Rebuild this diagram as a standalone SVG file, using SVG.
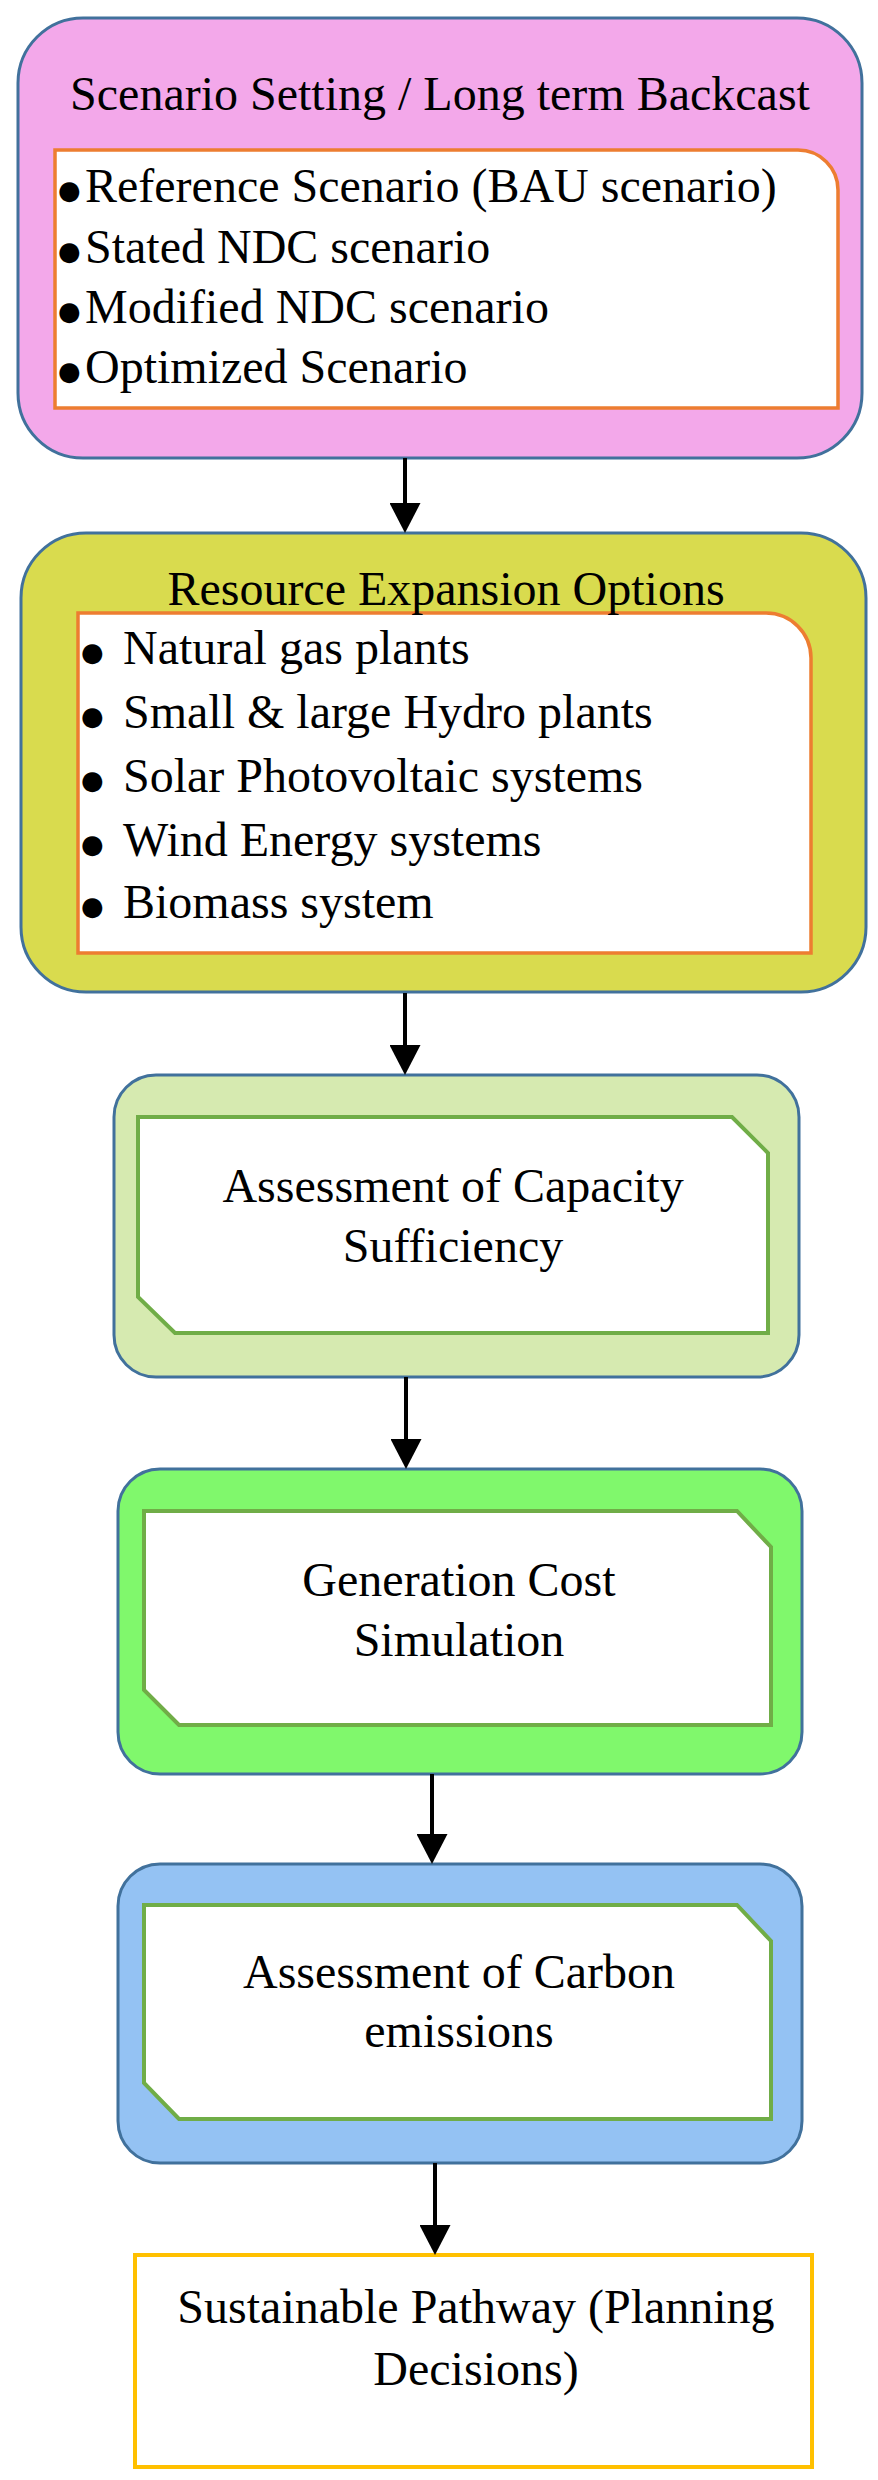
<svg xmlns="http://www.w3.org/2000/svg" width="878" height="2480" viewBox="0 0 878 2480">
<style>
text{font-family:"Liberation Serif","Times New Roman",serif;font-size:48px;fill:#000}
tspan.b{font-family:"DejaVu Sans",sans-serif;font-size:26px}
.c{text-anchor:middle}
.outer{stroke:#41719C;stroke-width:3}
.inOr{fill:#fff;stroke:#ED7D31;stroke-width:3.5}
.inGr{fill:#fff;stroke:#70AD47;stroke-width:4}
.conn{stroke:#000;stroke-width:4;fill:none}
</style>
<defs>
<marker id="ah" viewBox="0 0 30 31" refX="2" refY="15.5" markerWidth="30" markerHeight="31" markerUnits="userSpaceOnUse" orient="auto">
<path d="M0,0 L30,15.5 L0,31 Z" fill="#000"/>
</marker>
</defs>
<rect width="878" height="2480" fill="#fff"/>

<g id="scenario">
<rect class="outer" x="18" y="18" width="844" height="440" rx="65" fill="#F3A8EA"/>
<path class="inOr" d="M55,150 H798 A40,40 0 0 1 838,190 V408 H55 Z"/>
<text class="c" x="440" y="110">Scenario Setting / Long term Backcast</text>
<text x="58" y="199"><tspan class="b">●</tspan><tspan x="85" y="202">Reference Scenario (BAU scenario)</tspan></text>
<text x="58" y="260"><tspan class="b">●</tspan><tspan x="85" y="263">Stated NDC scenario</tspan></text>
<text x="58" y="320"><tspan class="b">●</tspan><tspan x="85" y="323">Modified NDC scenario</tspan></text>
<text x="58" y="380"><tspan class="b">●</tspan><tspan x="85" y="383">Optimized Scenario</tspan></text>
</g>

<g id="resource">
<rect class="outer" x="21" y="533" width="845" height="459" rx="65" fill="#D9DB4E"/>
<path class="inOr" d="M78,613 H766 A45,45 0 0 1 811,658 V953 H78 Z"/>
<text class="c" x="446" y="605">Resource Expansion Options</text>
<text x="81" y="661"><tspan class="b">●</tspan><tspan x="123" y="664">Natural gas plants</tspan></text>
<text x="81" y="725"><tspan class="b">●</tspan><tspan x="123" y="728">Small &amp; large Hydro plants</tspan></text>
<text x="81" y="789"><tspan class="b">●</tspan><tspan x="123" y="792">Solar Photovoltaic systems</tspan></text>
<text x="81" y="853"><tspan class="b">●</tspan><tspan x="123" y="856">Wind Energy systems</tspan></text>
<text x="81" y="915"><tspan class="b">●</tspan><tspan x="123" y="918">Biomass system</tspan></text>
</g>

<g id="capacity">
<rect class="outer" x="114" y="1075" width="685" height="302" rx="42" fill="#D6EAB0"/>
<path class="inGr" d="M138,1117 H732 L768,1153 V1333 H175 L138,1297 Z"/>
<text class="c" x="453" y="1202">Assessment of Capacity</text>
<text class="c" x="453" y="1262">Sufficiency</text>
</g>

<g id="generation">
<rect class="outer" x="118" y="1469" width="684" height="305" rx="42" fill="#80F86C"/>
<path class="inGr" d="M144,1511 H737 L771,1547 V1725 H179 L144,1690 Z"/>
<text class="c" x="459" y="1596">Generation Cost</text>
<text class="c" x="459" y="1656">Simulation</text>
</g>

<g id="carbon">
<rect class="outer" x="118" y="1864" width="684" height="299" rx="42" fill="#94C2F3"/>
<path class="inGr" d="M144,1905 H737 L771,1941 V2119 H179 L144,2083 Z"/>
<text class="c" x="459" y="1988">Assessment of Carbon</text>
<text class="c" x="459" y="2047">emissions</text>
</g>

<g id="pathway">
<rect x="135" y="2255" width="677" height="212" fill="#fff" stroke="#FFC000" stroke-width="4"/>
<text class="c" x="476" y="2323">Sustainable Pathway (Planning</text>
<text class="c" x="476" y="2385">Decisions)</text>
</g>

<g id="connectors">
<line class="conn" x1="405" y1="458" x2="405" y2="505" marker-end="url(#ah)"/>
<line class="conn" x1="405" y1="993" x2="405" y2="1047" marker-end="url(#ah)"/>
<line class="conn" x1="406" y1="1377" x2="406" y2="1441" marker-end="url(#ah)"/>
<line class="conn" x1="432" y1="1774" x2="432" y2="1836" marker-end="url(#ah)"/>
<line class="conn" x1="435" y1="2163" x2="435" y2="2227" marker-end="url(#ah)"/>
</g>
</svg>
